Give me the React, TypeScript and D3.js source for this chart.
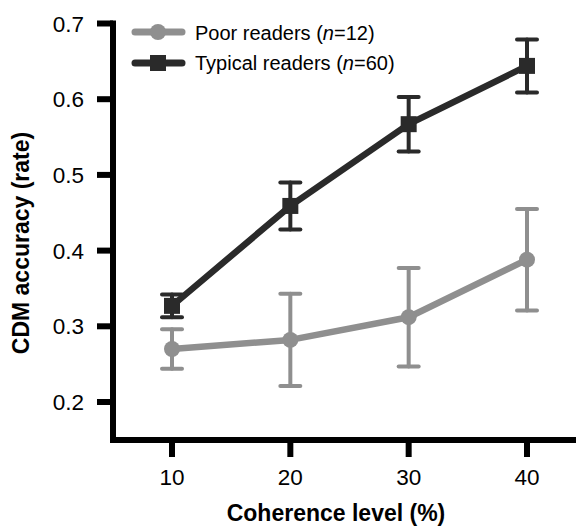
import React from "react";
import * as d3 from "d3";

const coherence = [10, 20, 30, 40];
const poorMean = [0.270, 0.282, 0.312, 0.388];
const poorErr = [0.026, 0.061, 0.065, 0.067];
const typicalMean = [0.327, 0.459, 0.567, 0.644];
const typicalErr = [0.015, 0.031, 0.036, 0.035];
const yTicks = [0.2, 0.3, 0.4, 0.5, 0.6, 0.7];
const xTicks = [10, 20, 30, 40];
const poorLabel = { pre: "Poor readers (", n: "n", post: "=12)" };
const typicalLabel = { pre: "Typical readers (", n: "n", post: "=60)" };

const W = 576;
const H = 527;
const FONT = "'Liberation Sans', Arial, Helvetica, sans-serif";
const POOR = "#8f8f8f";
const TYP = "#2a2a2a";

export default function App() {
  const x = d3.scaleLinear().domain([10, 40]).range([172, 527]);
  const y = d3.scaleLinear().domain([0.2, 0.7]).range([402, 23.5]);
  const axisX = 113;
  const axisY = 440;

  const line = d3
    .line<number>()
    .x((_, i) => x(coherence[i]))
    .y((d) => y(d));

  const errBars = (means: number[], errs: number[], color: string) =>
    means.map((m, i) => {
      const cx = x(coherence[i]);
      const top = y(m + errs[i]);
      const bot = y(m - errs[i]);
      return (
        <g key={i} stroke={color} strokeWidth={4} strokeLinecap="round">
          <line x1={cx} x2={cx} y1={top} y2={bot} />
          <line x1={cx - 10} x2={cx + 10} y1={top} y2={top} />
          <line x1={cx - 10} x2={cx + 10} y1={bot} y2={bot} />
        </g>
      );
    });

  return (
    <div style={{ position: "fixed", left: 0, top: 0 }}>
      <svg width={W} height={H} style={{ display: "block", background: "#fff" }}>
        {/* axes */}
        <path
          d={`M${axisX},${y(0.7) - 3}V${axisY}H${W + 5}`}
          fill="none"
          stroke="#000"
          strokeWidth={6}
          strokeLinejoin="miter"
        />
        {yTicks.map((t) => (
          <g key={t}>
            <line x1={97} x2={axisX} y1={y(t)} y2={y(t)} stroke="#000" strokeWidth={6} />
            <text
              x={84}
              y={y(t)}
              dy="0.36em"
              textAnchor="end"
              fontFamily={FONT}
              fontSize={22.5}
              fill="#000"
            >
              {d3.format(".1f")(t)}
            </text>
          </g>
        ))}
        {xTicks.map((t) => (
          <g key={t}>
            <line x1={x(t)} x2={x(t)} y1={axisY} y2={457} stroke="#000" strokeWidth={6} />
            <text
              x={x(t)}
              y={485}
              textAnchor="middle"
              fontFamily={FONT}
              fontSize={22.5}
              fill="#000"
            >
              {t}
            </text>
          </g>
        ))}
        <text
          x={336}
          y={521}
          textAnchor="middle"
          fontFamily={FONT}
          fontSize={23}
          fontWeight="bold"
          fill="#000"
        >
          Coherence level (%)
        </text>
        <text
          transform={`translate(29,243) rotate(-90)`}
          textAnchor="middle"
          fontFamily={FONT}
          fontSize={23}
          fontWeight="bold"
          fill="#000"
        >
          CDM accuracy (rate)
        </text>

        {/* poor readers */}
        {errBars(poorMean, poorErr, POOR)}
        <path d={line(poorMean) ?? ""} fill="none" stroke={POOR} strokeWidth={6.5} strokeLinejoin="round" />
        {poorMean.map((m, i) => (
          <circle key={i} cx={x(coherence[i])} cy={y(m)} r={8} fill={POOR} />
        ))}

        {/* typical readers */}
        {errBars(typicalMean, typicalErr, TYP)}
        <path d={line(typicalMean) ?? ""} fill="none" stroke={TYP} strokeWidth={6.5} strokeLinejoin="round" />
        {typicalMean.map((m, i) => (
          <rect key={i} x={x(coherence[i]) - 8} y={y(m) - 8} width={16} height={16} fill={TYP} />
        ))}

        {/* legend */}
        <g>
          <line x1={135} x2={182} y1={32} y2={32} stroke={POOR} strokeWidth={7} strokeLinecap="round" />
          <circle cx={158} cy={32} r={8} fill={POOR} />
          <text x={195} y={39.5} fontFamily={FONT} fontSize={20} fill="#000">
            {poorLabel.pre}
            <tspan fontStyle="italic">{poorLabel.n}</tspan>
            {poorLabel.post}
          </text>
          <line x1={135} x2={182} y1={63} y2={63} stroke={TYP} strokeWidth={7} strokeLinecap="round" />
          <rect x={150} y={55} width={16} height={16} fill={TYP} />
          <text x={195} y={70} fontFamily={FONT} fontSize={20} fill="#000">
            {typicalLabel.pre}
            <tspan fontStyle="italic">{typicalLabel.n}</tspan>
            {typicalLabel.post}
          </text>
        </g>
      </svg>
    </div>
  );
}
